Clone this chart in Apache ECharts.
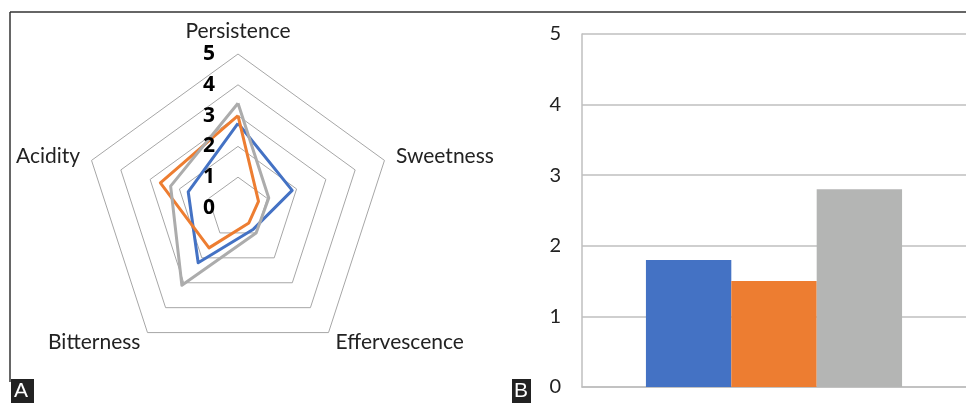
<!DOCTYPE html>
<html>
<head>
<meta charset="utf-8">
<script src="https://cdn.jsdelivr.net/npm/echarts@6/dist/echarts.min.js"></script>
<style>
  html, body { margin: 0; padding: 0; background: #fff; }
  #chart { width: 966px; height: 403px; }
</style>
</head>
<body>
<div id="chart"></div>
<script>
// radar attributes, counter-clockwise from the top (echarts radar order)
const attributes = ["Persistence", "Acidity", "Bitterness", "Effervescence", "Sweetness"];
const blueScores = [2.75, 1.7, 2.2, 0.85, 1.85];
const orangeScores = [3.0, 2.65, 1.6, 0.6, 0.7];
const grayScores = [3.4, 2.3, 3.1, 1.0, 1.05];
const barValues = [1.8, 1.5, 2.8];
const colors = ["#4472C4", "#ED7D31", "#ACACAC"];
const barColors = ["#4472C4", "#ED7D31", "#B4B5B4"];

const font = "Lato, 'Open Sans', sans-serif";
const cx = 238, cy = 208, R = 154;

const chart = echarts.init(document.getElementById("chart"));

const option = {
  animation: false,
  textStyle: { fontFamily: font },
  radar: {
    center: [cx, cy],
    radius: R,
    startAngle: 90,
    splitNumber: 5,
    shape: "polygon",
    indicator: attributes.map(function (n) { return { name: n, min: 0, max: 5 }; }),
    axisName: { color: "#222", fontSize: 21, fontFamily: font },
    nameGap: 12,
    axisLine: { show: false },
    axisTick: { show: false },
    axisLabel: { show: false },
    splitArea: { show: false },
    splitLine: { lineStyle: { color: "#a6a6a6", width: 1 } }
  },
  polar: { center: [cx, cy], radius: R },
  angleAxis: { show: false, startAngle: 90, min: 0, max: 360 },
  radiusAxis: {
    z: 10,
    min: 0, max: 5, interval: 1,
    axisLine: { show: false },
    axisTick: { show: false },
    splitLine: { show: false },
    axisLabel: { color: "#000", fontWeight: "bold", fontSize: 21, fontFamily: "'Open Sans', sans-serif", margin: 23 }
  },
  grid: { left: 582, right: 0, top: 34, bottom: 16 },
  xAxis: {
    type: "category",
    data: [""],
    axisLine: { lineStyle: { color: "#bfbfbf", width: 1.5 } },
    axisTick: { show: false },
    axisLabel: { show: false }
  },
  yAxis: {
    type: "value",
    min: 0, max: 5, interval: 1,
    axisLine: { show: true, lineStyle: { color: "#bfbfbf", width: 1.5 } },
    axisTick: { show: false },
    splitLine: { lineStyle: { color: "#bfbfbf", width: 1.5 } },
    axisLabel: { color: "#222", fontSize: 20, fontFamily: font, margin: 21 }
  },
  series: [
    {
      type: "radar",
      symbol: "none",
      data: [
        { name: "Series 1", value: blueScores, lineStyle: { color: colors[0], width: 3 } },
        { name: "Series 2", value: orangeScores, lineStyle: { color: colors[1], width: 3 } },
        { name: "Series 3", value: grayScores, lineStyle: { color: colors[2], width: 3 } }
      ]
    },
    { type: "bar", name: "Series 1", data: [barValues[0]], itemStyle: { color: barColors[0] }, barGap: 0, barCategoryGap: "33.3%" },
    { type: "bar", name: "Series 2", data: [barValues[1]], itemStyle: { color: barColors[1] }, barGap: 0, barCategoryGap: "33.3%" },
    { type: "bar", name: "Series 3", data: [barValues[2]], itemStyle: { color: barColors[2] }, barGap: 0, barCategoryGap: "33.3%" }
  ],
  graphic: [
    // panel frame
    { type: "line", shape: { x1: 10, y1: 12, x2: 966, y2: 12 }, style: { stroke: "#333", lineWidth: 1.5 } },
    { type: "line", shape: { x1: 10, y1: 12, x2: 10, y2: 382 }, style: { stroke: "#333", lineWidth: 1.5 } },
    // panel letters
    { type: "rect", shape: { x: 11, y: 379, width: 23, height: 24 }, style: { fill: "#222" } },
    { type: "text", left: 14, top: 381, style: { text: "A", fill: "#fff", fontSize: 21, fontFamily: "'Liberation Sans', Arial, sans-serif" } },
    { type: "rect", shape: { x: 512, y: 379, width: 19, height: 24 }, style: { fill: "#222" } },
    { type: "text", left: 514, top: 381, style: { text: "B", fill: "#fff", fontSize: 21, fontFamily: "'Liberation Sans', Arial, sans-serif" } }
  ]
};

chart.setOption(option);
</script>
</body>
</html>
